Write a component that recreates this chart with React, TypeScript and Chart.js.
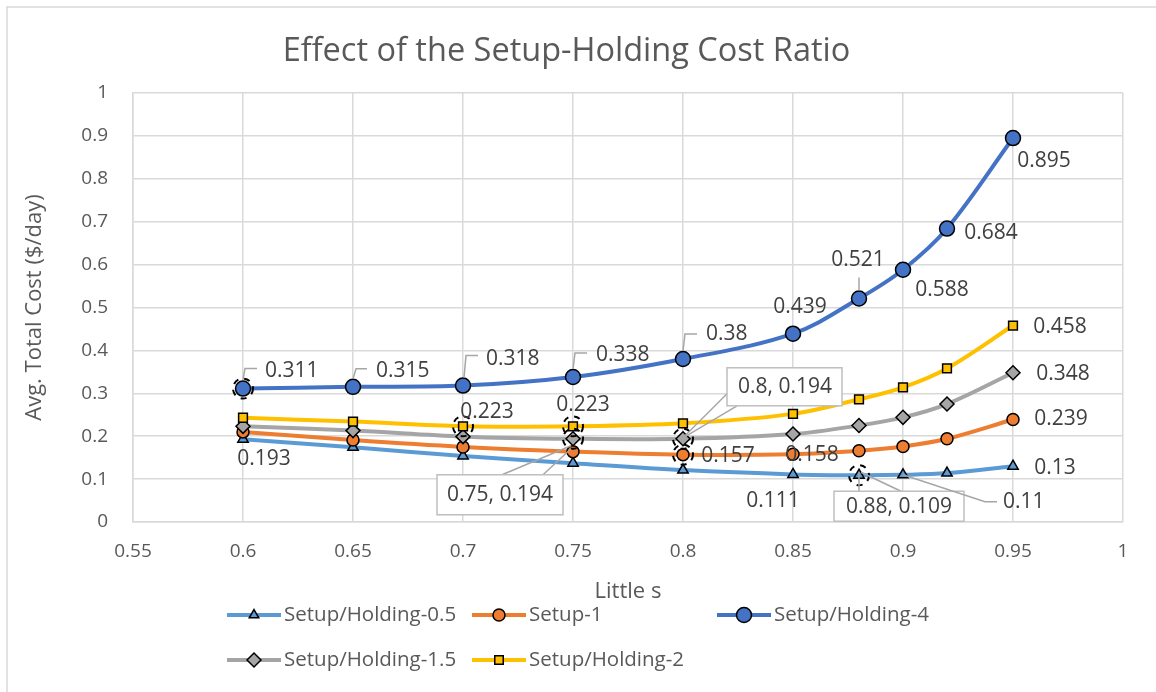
import { useEffect, useRef } from "react";
import { Chart, registerables } from "chart.js";
import { drawPoint } from "chart.js/helpers";

Chart.register(...registerables);

// ---------------- DATA ----------------
const littleS = [0.6, 0.65, 0.7, 0.75, 0.8, 0.85, 0.88, 0.9, 0.92, 0.95];
const holding05 = [0.193, 0.174, 0.154, 0.137, 0.121, 0.111, 0.109, 0.11, 0.114, 0.13];
const setup1 = [0.21, 0.191, 0.175, 0.164, 0.157, 0.158, 0.166, 0.176, 0.194, 0.239];
const holding4 = [0.311, 0.315, 0.318, 0.338, 0.38, 0.439, 0.521, 0.588, 0.684, 0.895];
const holding15 = [0.223, 0.213, 0.199, 0.194, 0.194, 0.205, 0.225, 0.244, 0.275, 0.348];
const holding2 = [0.243, 0.234, 0.223, 0.223, 0.23, 0.252, 0.286, 0.314, 0.358, 0.458];
const seriesNames = [
  "Setup/Holding-0.5",
  "Setup-1",
  "Setup/Holding-4",
  "Setup/Holding-1.5",
  "Setup/Holding-2",
];
const seriesValues = [holding05, setup1, holding4, holding15, holding2];
const chartTitle = "Effect of the Setup-Holding Cost Ratio";
const xTitle = "Little s";
const yTitle = "Avg. Total Cost ($/day)";
const xMin = 0.55;
const xMax = 1;
const xStep = 0.05;
const yMin = 0;
const yMax = 1;
const yStep = 0.1;

// ---------------- STYLES ----------------
const FONT = '"Open Sans", "Liberation Sans", sans-serif';
const seriesColors = ["#5B9BD5", "#ED7D31", "#4472C4", "#A5A5A5", "#FFC000"];
const seriesPointStyles = ["triangle", "circle", "circle", "rectRot", "rect"];
const seriesPointRadius = [6, 6, 7.5, 7, 6.2];
const legendPointRadius = [5.5, 6, 7.5, 7, 6];

const fmtTick = (v: number) => String(Math.round(v * 100) / 100);

// label placement (offsets relative to the data point, in px)
type Lbl = {
  ds: number;
  i: number;
  dx: number;
  dy: number;
  align?: CanvasTextAlign;
  leader?: number[][];
  box?: number[]; // x0, y0, x1, y1 relative
  callout?: number[][][];
  xy?: boolean;
};
const labelLayout: Lbl[] = [
  // Setup/Holding-4
  { ds: 2, i: 0, dx: 22, dy: -18, align: "left", leader: [[0, -9], [2, -20], [14, -20]] },
  { ds: 2, i: 1, dx: 23, dy: -16, align: "left", leader: [[0, -8], [3, -18], [14, -18]] },
  { ds: 2, i: 2, dx: 23, dy: -27, align: "left", leader: [[1, -8], [3, -30], [15, -30]] },
  { ds: 2, i: 3, dx: 23, dy: -22, align: "left", leader: [[0, -8], [2, -24], [14, -24]] },
  { ds: 2, i: 4, dx: 23, dy: -25, align: "left", leader: [[0, -8], [2, -25], [14, -25]] },
  { ds: 2, i: 5, dx: 7, dy: -27 },
  { ds: 2, i: 6, dx: -1, dy: -38, leader: [[0, -8], [0, -21]] },
  { ds: 2, i: 7, dx: 39, dy: 20 },
  { ds: 2, i: 8, dx: 44, dy: 4 },
  { ds: 2, i: 9, dx: 31, dy: 23 },
  // Setup/Holding-2
  { ds: 4, i: 2, dx: 24, dy: -14 },
  { ds: 4, i: 3, dx: 10, dy: -21 },
  { ds: 4, i: 9, dx: 47, dy: 1 },
  // Setup/Holding-1.5
  {
    ds: 3, i: 3, dx: -73, dy: 56, xy: true,
    box: [-136, 36, -10, 76],
    callout: [[[-71, 36], [-2, 7]], [[-30, 36], [-2, 10]]],
  },
  {
    ds: 3, i: 4, dx: 102, dy: -52, xy: true,
    box: [44, -71, 159, -33],
    callout: [[[45, -46], [0, -1]], [[54, -33], [0, -1]]],
  },
  { ds: 3, i: 9, dx: 50, dy: 1 },
  // Setup-1
  { ds: 1, i: 4, dx: 45, dy: 1 },
  { ds: 1, i: 5, dx: 19, dy: 1 },
  { ds: 1, i: 9, dx: 48, dy: 0 },
  // Setup/Holding-0.5
  { ds: 0, i: 0, dx: 21, dy: 20 },
  { ds: 0, i: 5, dx: -20, dy: 27 },
  {
    ds: 0, i: 6, dx: 40, dy: 32, xy: true,
    box: [-25, 16, 105, 46],
    callout: [[[0, -3], [0, 16]], [[2, -3], [42, 16]]],
  },
  { ds: 0, i: 7, dx: 100, dy: 27, align: "left", leader: [[0, 0], [82, 27], [94, 27]] },
  { ds: 0, i: 9, dx: 42, dy: 2 },
];
const ringMarks = [
  [2, 0],
  [4, 2],
  [4, 3],
  [3, 3],
  [3, 4],
  [1, 4],
  [0, 6],
];
const legendLayout = [
  { ds: 0, x: 227, y: 615 },
  { ds: 1, x: 472, y: 615 },
  { ds: 2, x: 717, y: 615 },
  { ds: 3, x: 227, y: 660 },
  { ds: 4, x: 472, y: 660 },
];

const backgroundPlugin = {
  id: "bgBorder",
  beforeDraw(chart: any) {
    const ctx = chart.ctx;
    ctx.save();
    ctx.fillStyle = "#FFFFFF";
    ctx.fillRect(0, 0, chart.width, chart.height);
    ctx.strokeStyle = "#D9D9D9";
    ctx.lineWidth = 1.5;
    ctx.strokeRect(7, 7, 1300, 900);
    ctx.restore();
  },
};

const labelsPlugin = {
  id: "pointLabels",
  afterDatasetsDraw(chart: any) {
    const ctx = chart.ctx as CanvasRenderingContext2D;
    ctx.save();
    // dashed selection rings
    ctx.strokeStyle = "#000000";
    ctx.lineWidth = 2;
    ctx.setLineDash([6, 6]);
    for (const [ds, i] of ringMarks) {
      const p = chart.getDatasetMeta(ds).data[i];
      ctx.beginPath();
      ctx.arc(p.x, p.y, 10, 0, Math.PI * 2);
      ctx.stroke();
    }
    ctx.setLineDash([]);
    for (const l of labelLayout) {
      const p = chart.getDatasetMeta(l.ds).data[l.i];
      const px = p.x;
      const py = p.y;
      const text = l.xy
        ? `${littleS[l.i]}, ${seriesValues[l.ds][l.i]}`
        : String(seriesValues[l.ds][l.i]);
      ctx.strokeStyle = "#A6A6A6";
      ctx.lineWidth = 1.5;
      if (l.leader) {
        ctx.beginPath();
        l.leader.forEach(([x, y], k) => {
          if (k === 0) ctx.moveTo(px + x, py + y);
          else ctx.lineTo(px + x, py + y);
        });
        ctx.stroke();
      }
      if (l.callout) {
        for (const seg of l.callout) {
          ctx.beginPath();
          ctx.moveTo(px + seg[0][0], py + seg[0][1]);
          ctx.lineTo(px + seg[1][0], py + seg[1][1]);
          ctx.stroke();
        }
      }
      if (l.box) {
        const [x0, y0, x1, y1] = l.box;
        ctx.fillStyle = "#FFFFFF";
        ctx.fillRect(px + x0, py + y0, x1 - x0, y1 - y0);
        ctx.strokeStyle = "#BFBFBF";
        ctx.lineWidth = 1.5;
        ctx.strokeRect(px + x0, py + y0, x1 - x0, y1 - y0);
      }
      ctx.fillStyle = "#404040";
      ctx.font = `21px ${FONT}`;
      ctx.textAlign = l.align || "center";
      ctx.textBaseline = "middle";
      ctx.fillText(text, px + l.dx, py + l.dy);
    }
    ctx.restore();
  },
};

const legendPlugin = {
  id: "customLegend",
  afterDraw(chart: any) {
    const ctx = chart.ctx as CanvasRenderingContext2D;
    ctx.save();
    for (const item of legendLayout) {
      const k = item.ds;
      ctx.strokeStyle = seriesColors[k];
      ctx.lineWidth = 4;
      ctx.lineCap = "butt";
      ctx.beginPath();
      ctx.moveTo(item.x, item.y);
      ctx.lineTo(item.x + 54, item.y);
      ctx.stroke();
      ctx.fillStyle = seriesColors[k];
      ctx.strokeStyle = "#000000";
      ctx.lineWidth = 1.5;
      drawPoint(
        ctx,
        {
          pointStyle: seriesPointStyles[k] as any,
          radius: legendPointRadius[k],
          rotation: 0,
          borderWidth: 1.5,
        } as any,
        item.x + 27,
        item.y
      );
      ctx.fillStyle = "#595959";
      ctx.font = `20.5px ${FONT}`;
      ctx.textAlign = "left";
      ctx.textBaseline = "middle";
      ctx.fillText(seriesNames[k], item.x + 57, item.y);
    }
    ctx.restore();
  },
};

export default function App() {
  const canvasRef = useRef<HTMLCanvasElement | null>(null);

  useEffect(() => {
    document.body.style.margin = "0";
    const canvas = canvasRef.current;
    if (!canvas) return;
    const datasets = seriesNames.map((name, k) => ({
      label: name,
      data: littleS.map((x, j) => ({ x, y: seriesValues[k][j] })),
      borderColor: seriesColors[k],
      backgroundColor: seriesColors[k],
      pointBackgroundColor: seriesColors[k],
      pointBorderColor: "#000000",
      pointBorderWidth: 1.5,
      pointRadius: seriesPointRadius[k],
      pointStyle: seriesPointStyles[k],
      borderWidth: 4,
      tension: 0.35,
      order: seriesNames.length - k,
    }));
    const chart = new Chart(canvas, {
      type: "line",
      data: { datasets } as any,
      options: {
        responsive: false,
        animation: false,
        layout: { padding: { left: 10, right: 33, top: 0, bottom: 87 } },
        plugins: {
          legend: { display: false },
          tooltip: { enabled: false },
          title: {
            display: true,
            text: chartTitle,
            color: "#595959",
            font: { family: FONT, size: 32.5, weight: "normal" as any },
            padding: { top: 32, bottom: 22 },
          },
        },
        scales: {
          x: {
            type: "linear",
            min: xMin,
            max: xMax,
            ticks: {
              stepSize: xStep,
              color: "#595959",
              font: { family: FONT, size: 19 },
              padding: 18,
              callback: (v: any) => fmtTick(Number(v)),
            },
            grid: { color: "#D9D9D9", lineWidth: 1.5, drawTicks: false },
            border: { color: "#D9D9D9", width: 1.5 },
            title: {
              display: true,
              text: xTitle,
              color: "#595959",
              font: { family: FONT, size: 22 },
              padding: { top: 0, bottom: 0 },
            },
            afterFit: (scale: any) => {
              scale.height = 83;
            },
          },
          y: {
            type: "linear",
            min: yMin,
            max: yMax,
            ticks: {
              stepSize: yStep,
              color: "#595959",
              font: { family: FONT, size: 19 },
              padding: 25,
              callback: (v: any) => fmtTick(Number(v)),
            },
            grid: { color: "#D9D9D9", lineWidth: 1.5, drawTicks: false },
            border: { color: "#D9D9D9", width: 1.5 },
            title: {
              display: true,
              text: yTitle,
              color: "#595959",
              font: { family: FONT, size: 22 },
              padding: { top: 12, bottom: 0 },
            },
            afterFit: (scale: any) => {
              scale.width = 123;
            },
          },
        },
      } as any,
      plugins: [backgroundPlugin, labelsPlugin, legendPlugin],
    });
    return () => chart.destroy();
  }, []);

  return (
    <div style={{ position: "absolute", left: 0, top: 0, width: 1156, height: 692 }}>
      <canvas ref={canvasRef} width={1156} height={692} />
    </div>
  );
}
